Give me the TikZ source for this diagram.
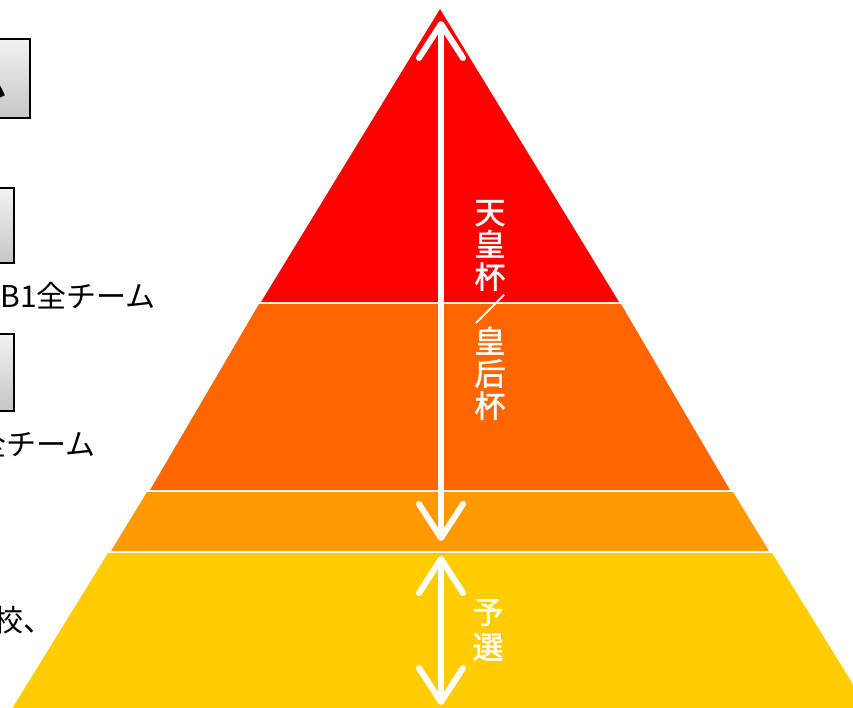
\documentclass[tikz,border=0pt]{standalone}
\usepackage{fontspec}
\newfontfamily\jp{Noto Sans CJK JP}
\newfontfamily\jpv[FakeBold=1.3]{Noto Sans CJK JP}
\usetikzlibrary{arrows.meta}
\definecolor{layA}{HTML}{FF0000}
\definecolor{layB}{HTML}{FF6600}
\definecolor{layC}{HTML}{FF9900}
\definecolor{layD}{HTML}{FFCC00}
\tikzset{
  graybox/.style={draw=black, line width=2pt, top color=gray!10, bottom color=gray!45, inner sep=0pt},
  ltext/.style={anchor=east, inner sep=0pt, text=black, font=\jp\fontsize{30}{30}\selectfont},
  btext/.style={anchor=east, inner sep=0pt, text=black, font=\jp\bfseries\fontsize{30}{30}\selectfont},
  vtext/.style={text=white, inner sep=0pt, align=center, font=\jpv\fontsize{31}{32.3}\selectfont},
  vtextb/.style={text=white, inner sep=0pt, align=center, font=\jpv\fontsize{31}{35}\selectfont},
  barb/.tip={Straight Barb[length=34pt,width=44pt,round]},
  warrow/.style={draw=white, line width=6pt, line cap=round, barb-barb}
}
\begin{document}
\begin{tikzpicture}[x=1pt,y=-1pt]
\useasboundingbox (0,0) rectangle (853,707);
\clip (0,0) rectangle (853,707);
% pyramid layers
\fill[layA] (440,9) -- (619,302) -- (261,302) -- cycle;
\fill[layB] (259,304) -- (621,304) -- (730,490) -- (150,490) -- cycle;
\fill[layC] (147,492) -- (733,492) -- (769,551) -- (111,551) -- cycle;
\fill[layD] (108,553) -- (772,553) -- (875,720) -- (5,720) -- cycle;
% left boxes
\node[graybox, anchor=north east, minimum width=230pt, minimum height=79pt] (box1) at (31,38) {};
\node[graybox, anchor=north east, minimum width=214pt, minimum height=75pt] (box2) at (15,187) {};
\node[graybox, anchor=north east, minimum width=214pt, minimum height=77pt] (box3) at (15,333) {};
\node[btext] (box1t) at (7,85) {ム};
% left texts
\node[ltext] (l1) at (156,296) {B1全チーム};
\node[ltext] (l2) at (96,444) {全チーム};
\node[ltext] (l3) at (54,620) {校、};
% arrows
\coordinate (a1s) at (441,21);
\coordinate (a1e) at (441,541);
\coordinate (a2s) at (441,556);
\coordinate (a2e) at (441,705);
\draw[warrow] (a1s) -- (a1e);
\draw[warrow] (a2s) -- (a2e);
% vertical labels
\node[vtext] (t1) at (490,310) {天\\皇\\杯\\／\\皇\\后\\杯};
\node[vtextb] (t2) at (488,630) {予\\選};
\end{tikzpicture}
\end{document}
